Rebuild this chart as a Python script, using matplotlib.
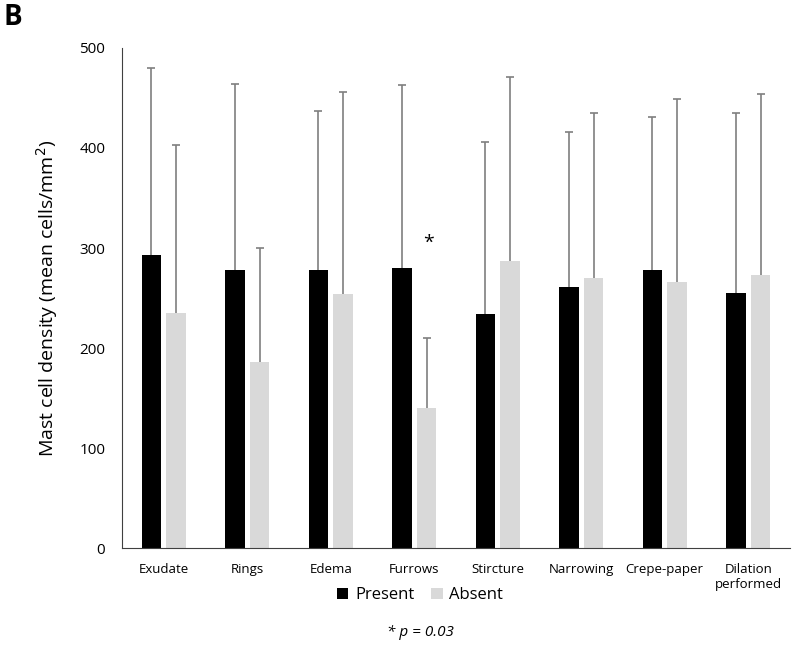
import numpy as np
import matplotlib.pyplot as plt

plt.rcParams['font.family'] = ['Open Sans', 'DejaVu Sans']

categories = ["Exudate", "Rings", "Edema", "Furrows", "Stircture",
              "Narrowing", "Crepe-paper", "Dilation\nperformed"]
present_mean = [293, 278, 278, 280, 234, 261, 278, 255]
present_sd = [187, 186, 159, 183, 172, 155, 153, 180]
absent_mean = [235, 186, 254, 140, 287, 270, 266, 273]
absent_sd = [168, 114, 202, 70, 184, 165, 183, 181]

x = np.arange(len(categories))
w = 0.23
off = 0.147

fig = plt.figure(figsize=(8, 6.66), dpi=100)
ax = fig.add_axes([0.1525, 0.177, 0.835, 0.751])

ax.bar(x - off, present_mean, w, color='black', label='Present', zorder=2)
ax.bar(x + off, absent_mean, w, color='#d9d9d9', label='Absent', zorder=2)

# upper error bars only
for pos, m, s in [(x - off, present_mean, present_sd), (x + off, absent_mean, absent_sd)]:
    tops = np.array(m) + np.array(s)
    ax.vlines(pos, m, tops, color='#7f7f7f', lw=1.2, zorder=1)
    ax.scatter(pos, tops, marker='_', s=30, color='#7f7f7f', linewidths=1.2, zorder=1)

ax.text(3.17, 305, '*', ha='center', va='center', fontsize=14)

ax.set_xlim(-0.5, len(x) - 0.5)
ax.set_ylim(0, 500)
ax.set_yticks([0, 100, 200, 300, 400, 500])
ax.set_xticks(x)
ax.set_xticklabels(categories, fontsize=9.5)
ax.tick_params(axis='x', length=0, pad=11)
ax.tick_params(axis='y', length=0, pad=12, labelsize=11)
ax.set_ylabel('Mast cell density (mean cells/mm$^2$)', fontsize=14, labelpad=14)

for s in ['top', 'right']:
    ax.spines[s].set_visible(False)
ax.spines['left'].set_color('#404040')
ax.spines['bottom'].set_color('#404040')

fig.legend(loc='center', bbox_to_anchor=(0.525, 0.106), ncol=2, frameon=False,
           fontsize=12, handlelength=0.7, handleheight=0.7, handletextpad=0.4,
           columnspacing=1.0)
fig.text(0.525, 0.051, '* p = 0.03', ha='center', va='center',
         fontsize=11, style='italic')
fig.text(0.005, 0.995, 'B', ha='left', va='top', fontsize=20, fontweight='bold')

fig.savefig('out.png', dpi=100)
